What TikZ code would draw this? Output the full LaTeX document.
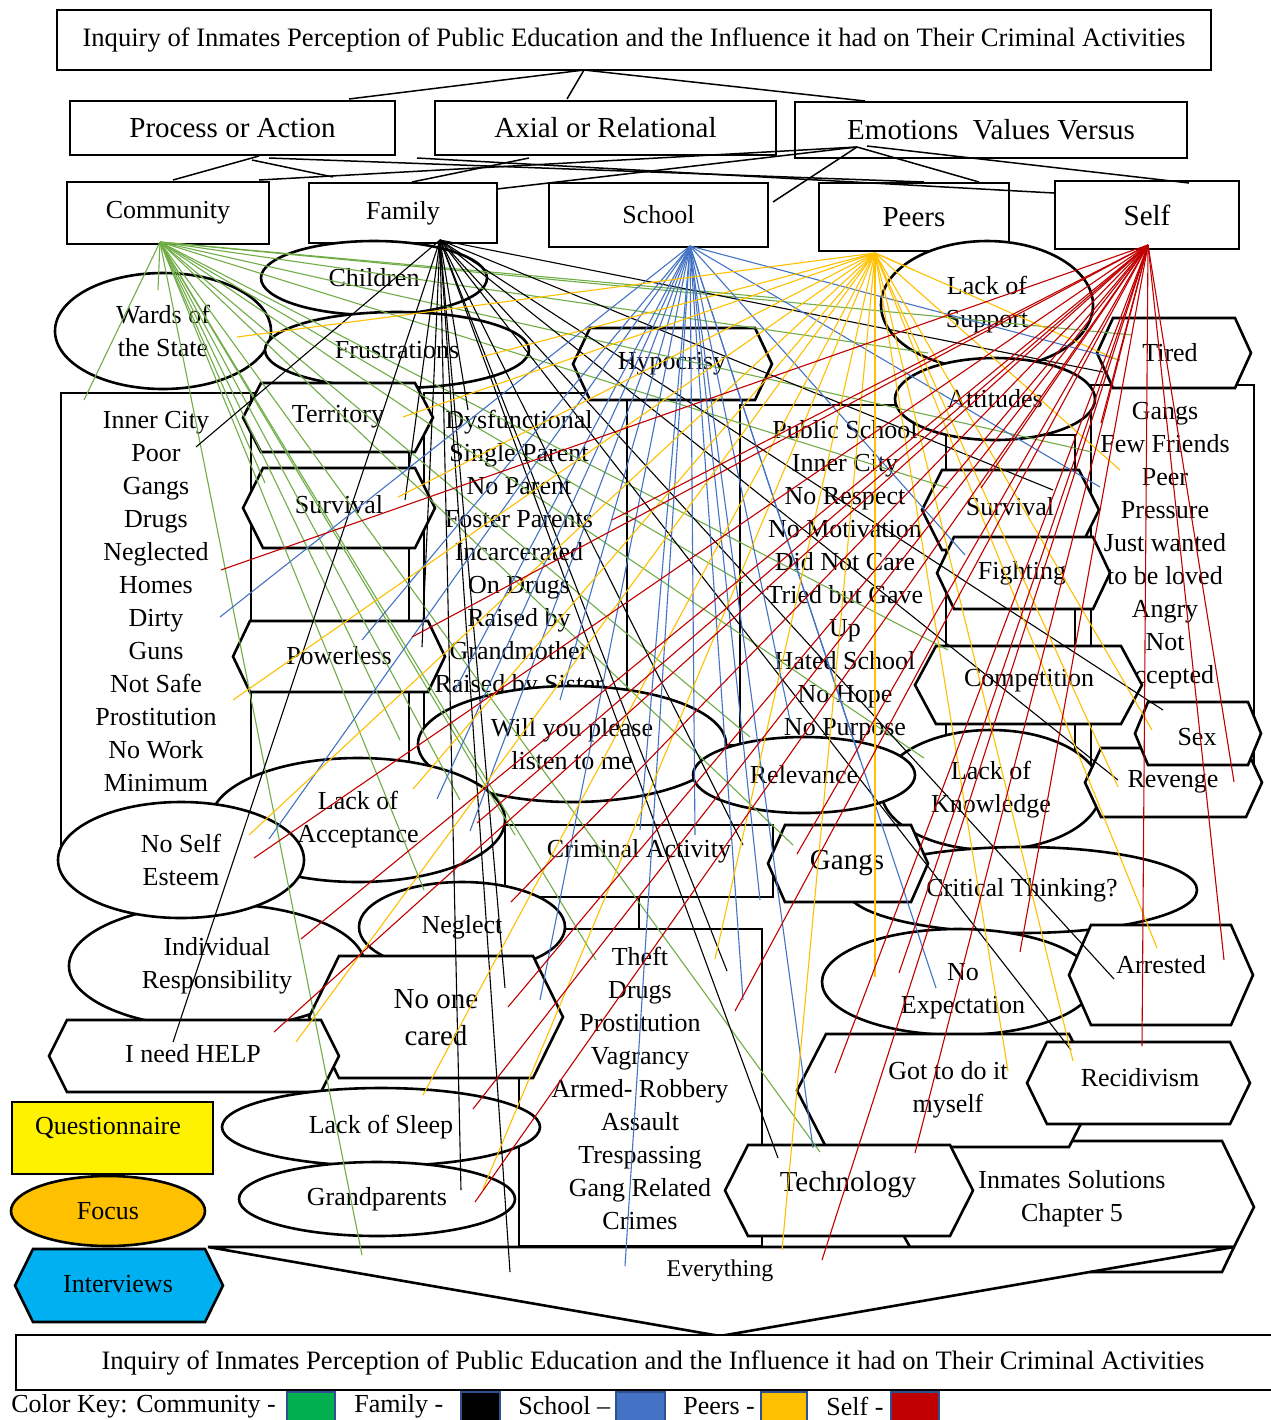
\documentclass[tikz,border=0pt]{standalone}
\usepackage{fontspec}
\setmainfont{Liberation Serif}
\usepackage{tikz}
\usetikzlibrary{shapes.geometric}

\definecolor{commgreen}{HTML}{70AD47}
\definecolor{schblue}{HTML}{4472C4}
\definecolor{peergold}{HTML}{FFC000}
\definecolor{selfred}{HTML}{C00000}
\definecolor{keygreen}{HTML}{00B050}
\definecolor{keyedge}{HTML}{2F528F}
\definecolor{interblue}{HTML}{00B0F0}

% hexagon: [style] left, right, top, bottom, inset
\newcommand{\hexpath}[6][]{%
  \draw[hexline,#1] (#2,{(#4+#5)/2}) -- ({#2+#6},#4) -- ({#3-#6},#4)
    -- (#3,{(#4+#5)/2}) -- ({#3-#6},#5) -- ({#2+#6},#5) -- cycle;}

\begin{document}
\begin{tikzpicture}[x=0.5pt,y=-0.5pt,inner sep=0pt,font=\fontsize{13}{16.5}\selectfont]
  \tikzstyle{box}=[draw,line width=1.3pt,fill=white,rectangle]
  \tikzstyle{oval}=[draw,line width=1.3pt,fill=white,ellipse,align=center]
  \tikzstyle{hexline}=[draw,line width=1.3pt,fill=white]
  \tikzstyle{words}=[align=center]
  \tikzstyle{tie}=[line width=0.75pt]
  \tikzstyle{fan}=[line width=0.55pt]
  \tikzstyle{big}=[font=\fontsize{14.5}{18.5}\selectfont]
  \tikzstyle{small}=[font=\fontsize{12}{14}\selectfont]
  \tikzstyle{heading}=[font=\fontsize{13.3}{16}\selectfont]
  \tikzstyle{swatch}=[draw=keyedge,line width=1pt,minimum height=14.5pt]

  \useasboundingbox (0,0) rectangle (1270,1420);

  % headings
  \node[box,heading,minimum width=577pt,minimum height=30pt] (title) at (634,40)
    {Inquiry of Inmates Perception of Public Education and the Influence it had on Their Criminal Activities};
  \node[box,big,minimum width=162.5pt,minimum height=27pt] (process) at (232.5,128) {Process or Action};
  \node[box,big,minimum width=170.5pt,minimum height=27pt] (axial) at (605.5,128) {Axial or Relational};
  \node[box,big,minimum width=196pt,minimum height=28pt] (emotions) at (991,130) {Emotions~~Values Versus};
  \node[box,minimum width=101pt,minimum height=31pt] (community) at (168,213) {Community};
  \node[box,minimum width=94pt,minimum height=30pt] (family) at (403,213) {Family};
  \node[box,minimum width=109.5pt,minimum height=32pt] (school) at (658.5,215) {School};
  \node[box,big,minimum width=95pt,minimum height=34pt] (peers) at (914,217) {Peers};
  \node[box,big,minimum width=92pt,minimum height=34pt] (self) at (1147,215) {Self};

  % columns
  \node[box,minimum width=95pt,minimum height=238.5pt] (commcol) at (156,631.5) {};
  \node[box,minimum width=79pt,minimum height=198.5pt] (terrcol) at (330,591.5) {};
  \node[box,minimum width=101.5pt,minimum height=168.5pt] (famcol) at (525.5,561.5) {};
  \node[box,minimum width=57.5pt,minimum height=172.5pt] (schcol) at (684.5,572.5) {};
  \node[box,minimum width=103pt,minimum height=192.5pt] (pubcol) at (843,597.5) {};
  \node[box,minimum width=64.5pt,minimum height=172.5pt] (peercol) at (1010.5,607.5) {};
  \node[box,minimum width=81.5pt,minimum height=207.5pt] (selfcol) at (1172.5,592.5) {};
  \node[box,minimum width=121.5pt,minimum height=158.5pt] (theftcol) at (640.5,1087.5) {};
  \node[words] (commlist) at (156,602) {Inner City\\Poor\\Gangs\\Drugs\\Neglected\\Homes\\Dirty\\Guns\\Not Safe\\Prostitution\\No Work\\Minimum};
  \node[words] (famlist) at (519,554) {Dysfunctional\\Single Parent\\No Parent\\Foster Parents\\Incarcerated\\On Drugs\\Raised by\\Grandmother\\Raised by Sister};
  \node[words] (publist) at (845,581) {Public School\\Inner City\\No Respect\\No Motivation\\Did Not Care\\Tried but Gave\\Up\\Hated School\\No Hope\\No Purpose};
  \node[words] (selflist) at (1165,546) {Gangs\\Few Friends\\Peer\\Pressure\\Just wanted\\to be loved\\Angry\\Not\\Accepted};
  \node[words] (theftlist) at (640,1088) {Theft\\Drugs\\Prostitution\\Vagrancy\\Armed- Robbery\\Assault\\Trespassing\\Gang Related\\Crimes};

  % upper shapes
  \node[oval,minimum width=113pt,minimum height=37pt] (children) at (374,278) {Children};
  \node[oval,minimum width=108pt,minimum height=58pt] (wards) at (163,331) {Wards of\\the State};
  \node[oval,minimum width=132pt,minimum height=38pt] (frustrations) at (397,350) {Frustrations};
  \hexpath{1097}{1251}{318}{388}{16}
  \node (tired) at (1170,353) {Tired};
  \node[oval,minimum width=106pt,minimum height=64pt] (support) at (987,305) {Lack of\\Support};
  \node[oval,minimum width=100pt,minimum height=41pt] (attitudes) at (995,399) {Attitudes};
  \hexpath{573}{772}{328}{400}{17}
  \node (hypocrisy) at (672,364) {Hypocrisy};
  \hexpath{243}{433}{383}{452}{18}
  \node (territory) at (338,417) {Territory};
  \hexpath{243}{435}{468}{548}{20}
  \node (survivalL) at (339,505) {Survival};
  \hexpath{233}{445}{621}{692}{17}
  \node (powerless) at (339,656) {Powerless};
  \hexpath{922}{1099}{470}{550}{20}
  \node (survivalR) at (1010,507) {Survival};
  \hexpath{937}{1110}{537}{609}{17}
  \node (fighting) at (1022,573) {Fighting};
  \hexpath{915}{1142}{646}{724}{21}
  \node (competition) at (1029,681) {Competition};

  % middle shapes
  \node[oval,minimum width=154pt,minimum height=58pt] (listen) at (572,744) {Will you please\\listen to me};
  \node[oval,minimum width=110pt,minimum height=60pt] (knowledge) at (991,790) {Lack of\\Knowledge};
  \node[oval,minimum width=111pt,minimum height=38pt] (relevance) at (804,775) {Relevance};
  \hexpath{1085}{1262}{748}{817}{16}
  \node (revenge) at (1173,782) {Revenge};
  \hexpath{1135}{1261}{702}{765}{13}
  \node (sex) at (1197,737) {Sex};
  \node[oval,minimum width=147pt,minimum height=62pt] (acceptance) at (358,820) {Lack of\\Acceptance};
  \node[oval,minimum width=148pt,minimum height=62pt] (responsibility) at (217,966) {Individual\\Responsibility};
  \node[oval,minimum width=123pt,minimum height=58pt] (esteem) at (181,860) {No Self\\Esteem};
  \node[box,minimum width=134pt,minimum height=36pt] (crimact) at (639,861) {};
  \node (crimtxt) at (639,851) {Criminal Activity};
  \draw[line width=1.3pt] (crimact.south) -- (crimact.south |- theftcol.north);
  \node[oval,minimum width=175pt,minimum height=43pt] (critical) at (1022,890) {Critical Thinking?};
  \hexpath{768}{928}{825}{902}{17}
  \node[big] (gangs) at (847,863) {Gangs};
  \node[oval,minimum width=103pt,minimum height=45pt] (neglect) at (462,927) {Neglect};
  \hexpath{309}{563}{956}{1078}{30}
  \node[big,words] (nocare) at (436,1018) {No one\\cared};
  \hexpath{49}{339}{1020}{1092}{18}
  \node (help) at (193,1054) {I need HELP};

  % lower shapes
  \node[oval,minimum width=136pt,minimum height=53pt] (noexpect) at (958,982) {};
  \node[words] (noexptxt) at (963,991) {No\\Expectation};
  \hexpath{1069}{1253}{925}{1025}{22}
  \node (arrested) at (1161,965) {Arrested};
  \draw[hexline] (880,1194) -- (905,1141) -- (1222,1141) -- (1254,1207) -- (1234,1247) -- (910,1247) -- cycle;
  \node[words] (solutions) at (1072,1199) {Inmates Solutions\\Chapter 5};
  \hexpath{797}{1098}{1034}{1147}{29}
  \node[words] (myself) at (948,1090) {Got to do it\\myself};
  \hexpath{1027}{1250}{1042}{1124}{20}
  \node (recidivism) at (1140,1078) {Recidivism};
  \hexpath{725}{973}{1145}{1236}{23}
  \node[big] (technology) at (848,1185) {Technology};
  \node[oval,minimum width=159pt,minimum height=39pt] (sleep) at (381,1127) {Lack of Sleep};
  \node[oval,minimum width=138pt,minimum height=37pt] (grandparents) at (377,1199) {Grandparents};

  % methods
  \node[box,fill=yellow,minimum width=100.5pt,minimum height=36pt] (quest) at (112.5,1138) {};
  \node (questtxt) at (108,1128) {Questionnaire};
  \node[oval,fill=peergold,minimum width=97pt,minimum height=35pt] (focus) at (108,1211) {Focus};
  \hexpath[fill=interblue]{15}{223}{1249}{1322}{18}
  \node (interviews) at (118,1284) {Interviews};

  % everything and bottom title
  \draw[hexline] (208,1247) -- (1234,1247) -- (720,1336) -- cycle;
  \draw[line width=1.3pt] (1234,1247) -- (1222,1272) -- (1090,1272);
  \node[small] (everything) at (720,1271) {Everything};
  \node[box,heading,minimum width=637pt,minimum height=27.5pt] (bottomtitle) at (653,1362.5)
    {Inquiry of Inmates Perception of Public Education and the Influence it had on Their Criminal Activities};

  % colour key
  \node[anchor=west] (keytxt) at (11,1406) {Color Key: Community -};
  \node[swatch,fill=keygreen,minimum width=24pt] (keycomm) at (311,1406) {};
  \node[anchor=west] (keyfam) at (354,1406) {Family -};
  \node[swatch,fill=black,minimum width=19.5pt] (keyfamsw) at (480.5,1406) {};
  \node[anchor=west] (keysch) at (518,1406) {School –};
  \node[swatch,fill=schblue,minimum width=24.5pt] (keyschsw) at (640.5,1406) {};
  \node[anchor=west] (keypeer) at (683,1406) {Peers -};
  \node[swatch,fill=peergold,minimum width=23pt] (keypeersw) at (784,1406) {};
  \node[anchor=west] (keyself) at (826,1406) {Self -};
  \node[swatch,fill=selfred,minimum width=24pt] (keyselfsw) at (915,1406) {};

  % links between the headings
  \coordinate (titlefoot) at (584,70);
  \coordinate (procup) at (349,99);
  \coordinate (axialup) at (567,99);
  \coordinate (emoup) at (865,101);
  \coordinate (procfoot) at (259,156);
  \coordinate (procfoot2) at (252,160);
  \coordinate (procfoot3) at (269,158);
  \coordinate (axialfoot) at (529,158);
  \coordinate (axialfoot2) at (417,158);
  \coordinate (emofoot) at (857,147);
  \coordinate (emofoot2) at (867,146);
  \coordinate (commup) at (173,180);
  \coordinate (commup2) at (259,180);
  \coordinate (famup) at (333,177);
  \coordinate (famup2) at (412,182);
  \coordinate (famside) at (497,189);
  \coordinate (schside) at (773,202);
  \coordinate (peerup) at (924,182);
  \coordinate (peerup2) at (979,182);
  \coordinate (selfside) at (1054,193);
  \coordinate (selfup) at (1189,183);
  \path[tie]
  (titlefoot) edge (procup)
              edge (axialup)
              edge (emoup)
  (procfoot)  edge (commup)
  (procfoot2) edge (famup)
  (procfoot3) edge (peerup)
  (axialfoot) edge (famup2)
  (axialfoot2) edge (selfside)
  (emofoot)   edge (commup2)
              edge (famside)
              edge (schside)
              edge (peerup2)
  (emofoot2)  edge (selfup);

  % codes fanning out of each category
  \coordinate (commroot) at (160,242);
  \coordinate (famroot) at (440,240);
  \coordinate (schroot) at (690,246);
  \coordinate (peerroot) at (875,253);
  \coordinate (selfroot) at (1148,245);
  \foreach \ex/\ey in {84/400,158/290,265/483,362/1255,400/740,424/890,460/800,515/835,596/960,
      743/583,750/737,793/845,820/1152,924/758,948/650,948/488,1092/452,1132/335,928/353,777/298}
    \draw[fan,commgreen] (commroot) -- (\ex,\ey);
  \foreach \ex/\ey in {196/447,173/1042,405/500,422/647,468/410,461/1190,510/1272,505/988,
      727/971,743/845,778/1158,1103/372,1053/490,1163/710,1118/780,1114/979,1071/1050}
    \draw[fan,black] (famroot) -- (\ex,\ey);
  \foreach \ex/\ey in {220/617,362/640,269/839,437/799,470/831,540/1000,625/1266,695/835,743/1000,
      813/1148,936/988,965/555,1100/487,1120/360,455/690,560/700,640/830,760/900,790/720,860/760}
    \draw[fan,schblue] (schroot) -- (\ex,\ey);
  \foreach \ex/\ey in {237/337,481/357,403/417,398/497,233/700,249/835,296/1042,413/789,423/1095,
      483/1189,715/959,782/1250,875/977,1008/1071,1073/1061,1157/948,1152/730,1118/787,1120/470,
      1118/360,914/270}
    \draw[fan,peergold] (peerroot) -- (\ex,\ey);
  \foreach \ex/\ey in {221/570,412/637,612/520,254/858,301/939,274/1032,508/1007,473/1109,475/1202,
      511/902,477/823,797/854,735/1011,835/1073,899/973,915/1153,822/1260,1020/952,1142/1046,
      1224/960,1234/782,1101/423,981/488}
    \draw[fan,selfred] (selfroot) -- (\ex,\ey);
\end{tikzpicture}
\end{document}
